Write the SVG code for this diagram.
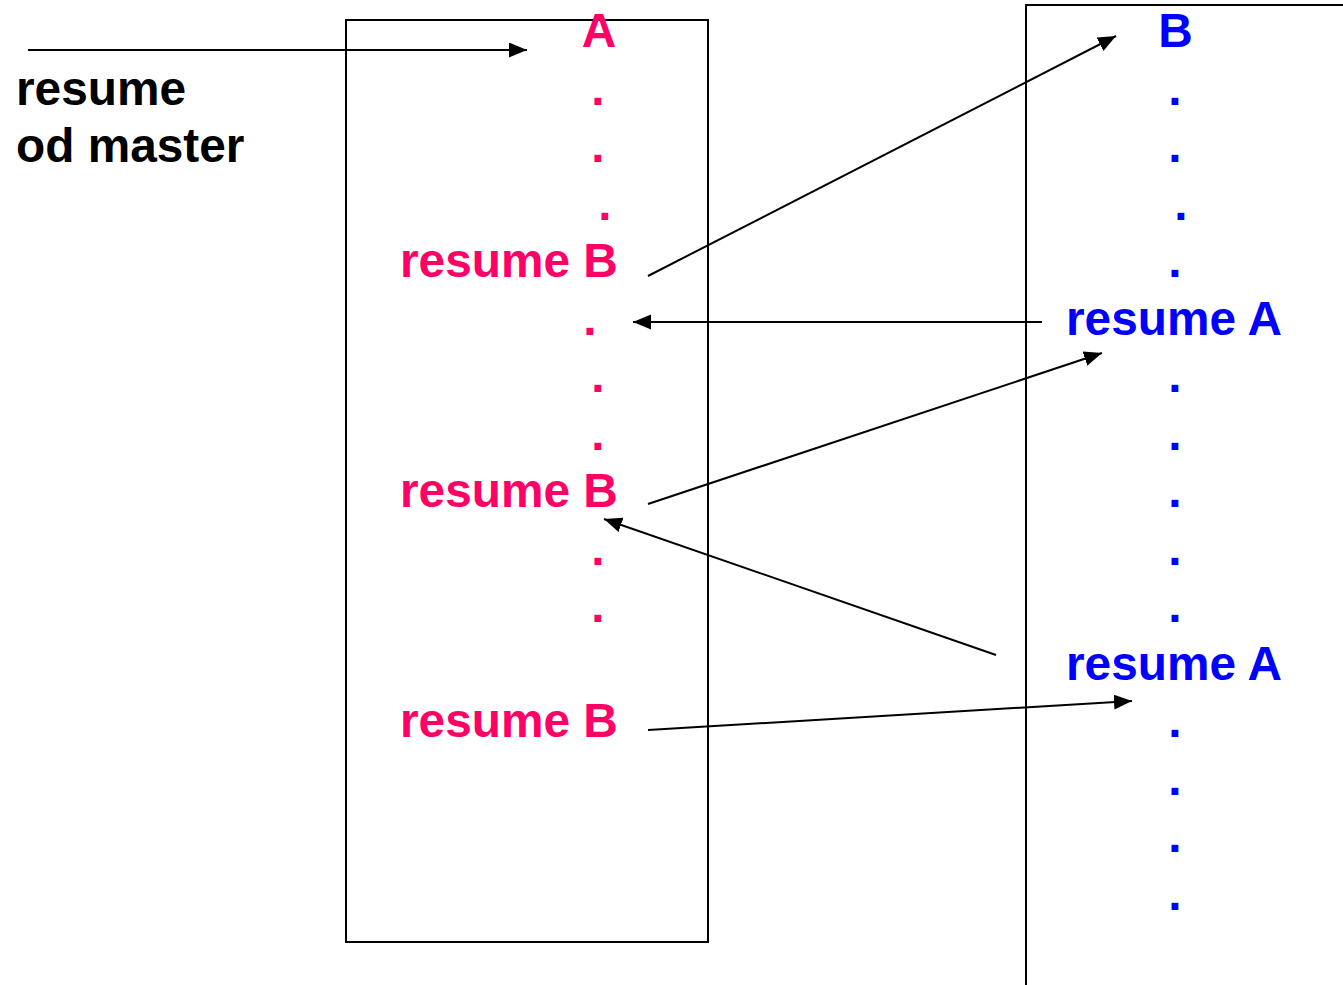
<svg xmlns="http://www.w3.org/2000/svg" width="1343" height="985" viewBox="0 0 1343 985">
<defs>
<marker id="ah" markerUnits="userSpaceOnUse" markerWidth="19" markerHeight="16" refX="18" refY="7.5" orient="auto">
<path d="M0,0 L18,7.5 L0,15 z" fill="#000"/>
</marker>
<style>
text{font-family:"Liberation Sans",Arial,sans-serif;font-weight:bold;font-size:47.8px}
.p{fill:#FF0066}
.b{fill:#0000FF}
.k{fill:#000}
.m{text-anchor:middle}
.box{fill:none;stroke:#000;stroke-width:2}
.c line{stroke:#000;stroke-width:2;marker-end:url(#ah)}
</style>
</defs>
<rect width="1343" height="985" fill="#fff"/>
<g id="master">
<text class="k" x="16" y="105">resume</text>
<text class="k" x="16" y="162">od master</text>
</g>
<g id="coroutineA">
<rect class="box" x="346" y="20" width="362" height="922"/>
<text class="p m" x="599" y="47">A</text>
<text class="p m" x="598" y="104.5">.</text>
<text class="p m" x="598" y="162">.</text>
<text class="p m" x="605" y="219.5">.</text>
<text class="p" x="400" y="277">resume B</text>
<text class="p m" x="590" y="334.5">.</text>
<text class="p m" x="598" y="392">.</text>
<text class="p m" x="598" y="449.5">.</text>
<text class="p" x="400" y="507">resume B</text>
<text class="p m" x="598" y="564.5">.</text>
<text class="p m" x="598" y="622">.</text>
<text class="p" x="400" y="737">resume B</text>
</g>
<g id="coroutineB">
<rect class="box" x="1026" y="5" width="340" height="1000"/>
<text class="b m" x="1175.5" y="47">B</text>
<text class="b m" x="1175" y="104.5">.</text>
<text class="b m" x="1175" y="162">.</text>
<text class="b m" x="1181" y="219.5">.</text>
<text class="b m" x="1175" y="277">.</text>
<text class="b" x="1066" y="334.5">resume A</text>
<text class="b m" x="1175" y="392">.</text>
<text class="b m" x="1175" y="449.5">.</text>
<text class="b m" x="1175" y="507">.</text>
<text class="b m" x="1175" y="564.5">.</text>
<text class="b m" x="1175" y="622">.</text>
<text class="b" x="1066" y="679.5">resume A</text>
<text class="b m" x="1175" y="737">.</text>
<text class="b m" x="1175" y="794.5">.</text>
<text class="b m" x="1175" y="852">.</text>
<text class="b m" x="1175" y="909.5">.</text>
</g>
<g id="connectors" class="c">
<line x1="28" y1="50" x2="527" y2="50"/>
<line x1="648" y1="276" x2="1116" y2="36"/>
<line x1="1042" y1="322" x2="633" y2="322"/>
<line x1="648" y1="504" x2="1102" y2="353"/>
<line x1="996" y1="655" x2="604" y2="519"/>
<line x1="648" y1="730" x2="1132" y2="701"/>
</g>
</svg>
